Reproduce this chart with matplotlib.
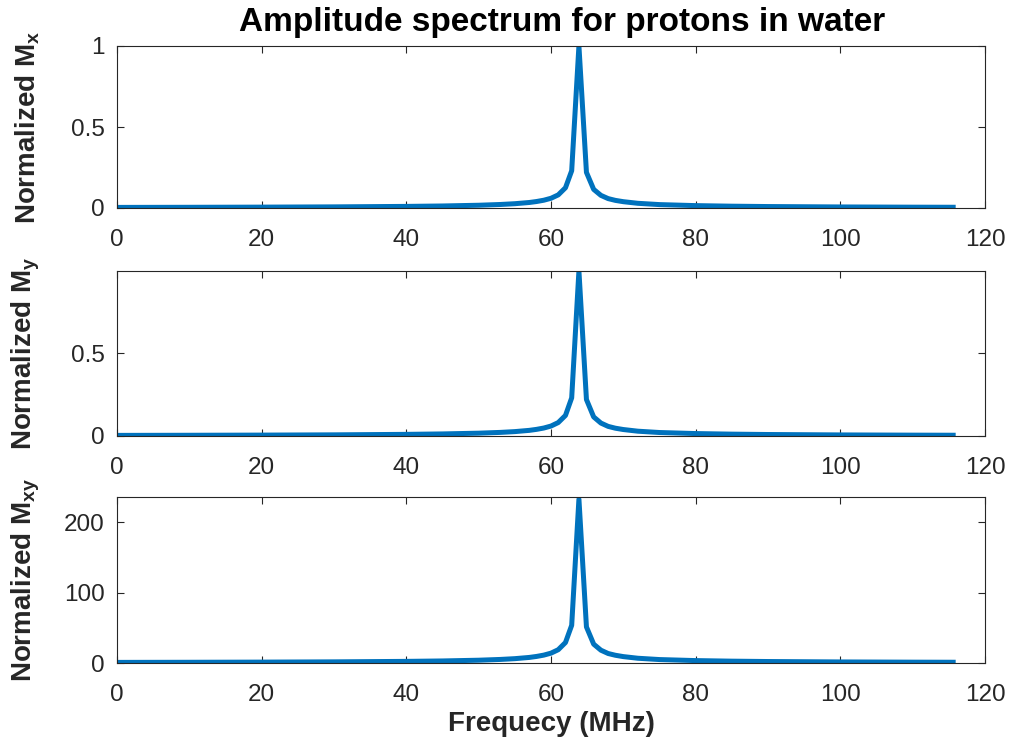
import matplotlib
matplotlib.use("Agg")
import matplotlib.pyplot as plt

plt.rcParams['font.family'] = ['Liberation Sans', 'DejaVu Sans']
plt.rcParams['mathtext.fontset'] = 'custom'
plt.rcParams['mathtext.rm'] = 'Liberation Sans:bold'
plt.rcParams['mathtext.bf'] = 'Liberation Sans:bold'
plt.rcParams['mathtext.it'] = 'Liberation Sans:bold'

# Frequency samples (MHz)
freq = [0, 10, 20, 30, 40, 45, 50, 53, 55, 57, 58, 59, 60, 61, 62, 62.86,
        63.86, 64.9, 65.9, 66.9, 67.9, 68.9, 70, 72, 75, 80, 85, 90, 100,
        110, 115.6]

# Normalized Mx amplitude
mx = [0.0037, 0.0044, 0.0054, 0.0070, 0.0099, 0.0125, 0.017, 0.0217,
      0.0265, 0.034, 0.040, 0.048, 0.060, 0.081, 0.125, 0.23,
      1.0, 0.22, 0.115, 0.078, 0.058, 0.047, 0.039, 0.029, 0.021, 0.0147,
      0.0112, 0.009, 0.0065, 0.0051, 0.0046]

# Normalized My amplitude
my = [0.0037, 0.0044, 0.0054, 0.0070, 0.0099, 0.0125, 0.017, 0.0217,
      0.0265, 0.034, 0.040, 0.048, 0.060, 0.081, 0.124, 0.23,
      0.995, 0.22, 0.115, 0.078, 0.058, 0.047, 0.039, 0.029, 0.021, 0.0147,
      0.0112, 0.009, 0.0065, 0.0051, 0.0046]

# Normalized Mxy amplitude
mxy = [0.86, 1.03, 1.26, 1.63, 2.31, 2.91, 3.96, 5.06,
       6.17, 7.92, 9.32, 11.2, 14.0, 18.9, 29.1, 53.6,
       233.0, 51.3, 26.8, 18.2, 13.5, 11.0, 9.09, 6.76, 4.89, 3.43,
       2.61, 2.10, 1.51, 1.19, 1.07]

xticks = [0, 20, 40, 60, 80, 100, 120]
yticks_list = [[0, 0.5, 1], [0, 0.5], [0, 100, 200]]
ylims = [(0, 1.0), (0, 0.995), (0, 236)]
ylabels = ['Normalized M$_{\\mathrm{x}}$', 'Normalized M$_{\\mathrm{y}}$',
           'Normalized M$_{\\mathrm{xy}}$']
series = [mx, my, mxy]

W, H = 1014, 742
fig = plt.figure(figsize=(W / 100, H / 100), dpi=100)
boxes = [(46, 208), (271, 436), (497, 663)]
left_px, right_px = 117, 985
axc = '#262626'
line_color = '#0072BD'

axes = []
for i, (top, bot) in enumerate(boxes):
    ax = fig.add_axes([left_px / W, 1 - bot / H, (right_px - left_px) / W, (bot - top) / H])
    ax.plot(freq, series[i], color=line_color, linewidth=3.6, solid_joinstyle='round')
    ax.set_xlim(0, 120)
    ax.set_ylim(*ylims[i])
    ax.set_xticks(xticks)
    ax.set_yticks(yticks_list[i])
    ax.set_yticklabels([('%g' % v) for v in yticks_list[i]])
    ax.tick_params(direction='in', length=5, width=0.8, colors=axc, labelsize=17.5,
                   top=True, right=True)
    ax.tick_params(axis='x', pad=15)
    ax.tick_params(axis='y', pad=9)
    for s in ax.spines.values():
        s.set_color(axc)
        s.set_linewidth(0.8)
    ax.set_ylabel(ylabels[i], fontsize=20, fontweight='bold', color=axc)
    ax.yaxis.set_label_coords(-0.086, 0.5)
    axes.append(ax)

t = axes[0].set_title('Amplitude spectrum for protons in water', fontsize=24,
                      fontweight='bold', color='black', pad=11)
t.set_x(0.513)
axes[2].set_xlabel('Frequecy (MHz)', fontsize=20, fontweight='bold', color=axc, labelpad=4)

fig.savefig('out.png', dpi=100, facecolor='white')
